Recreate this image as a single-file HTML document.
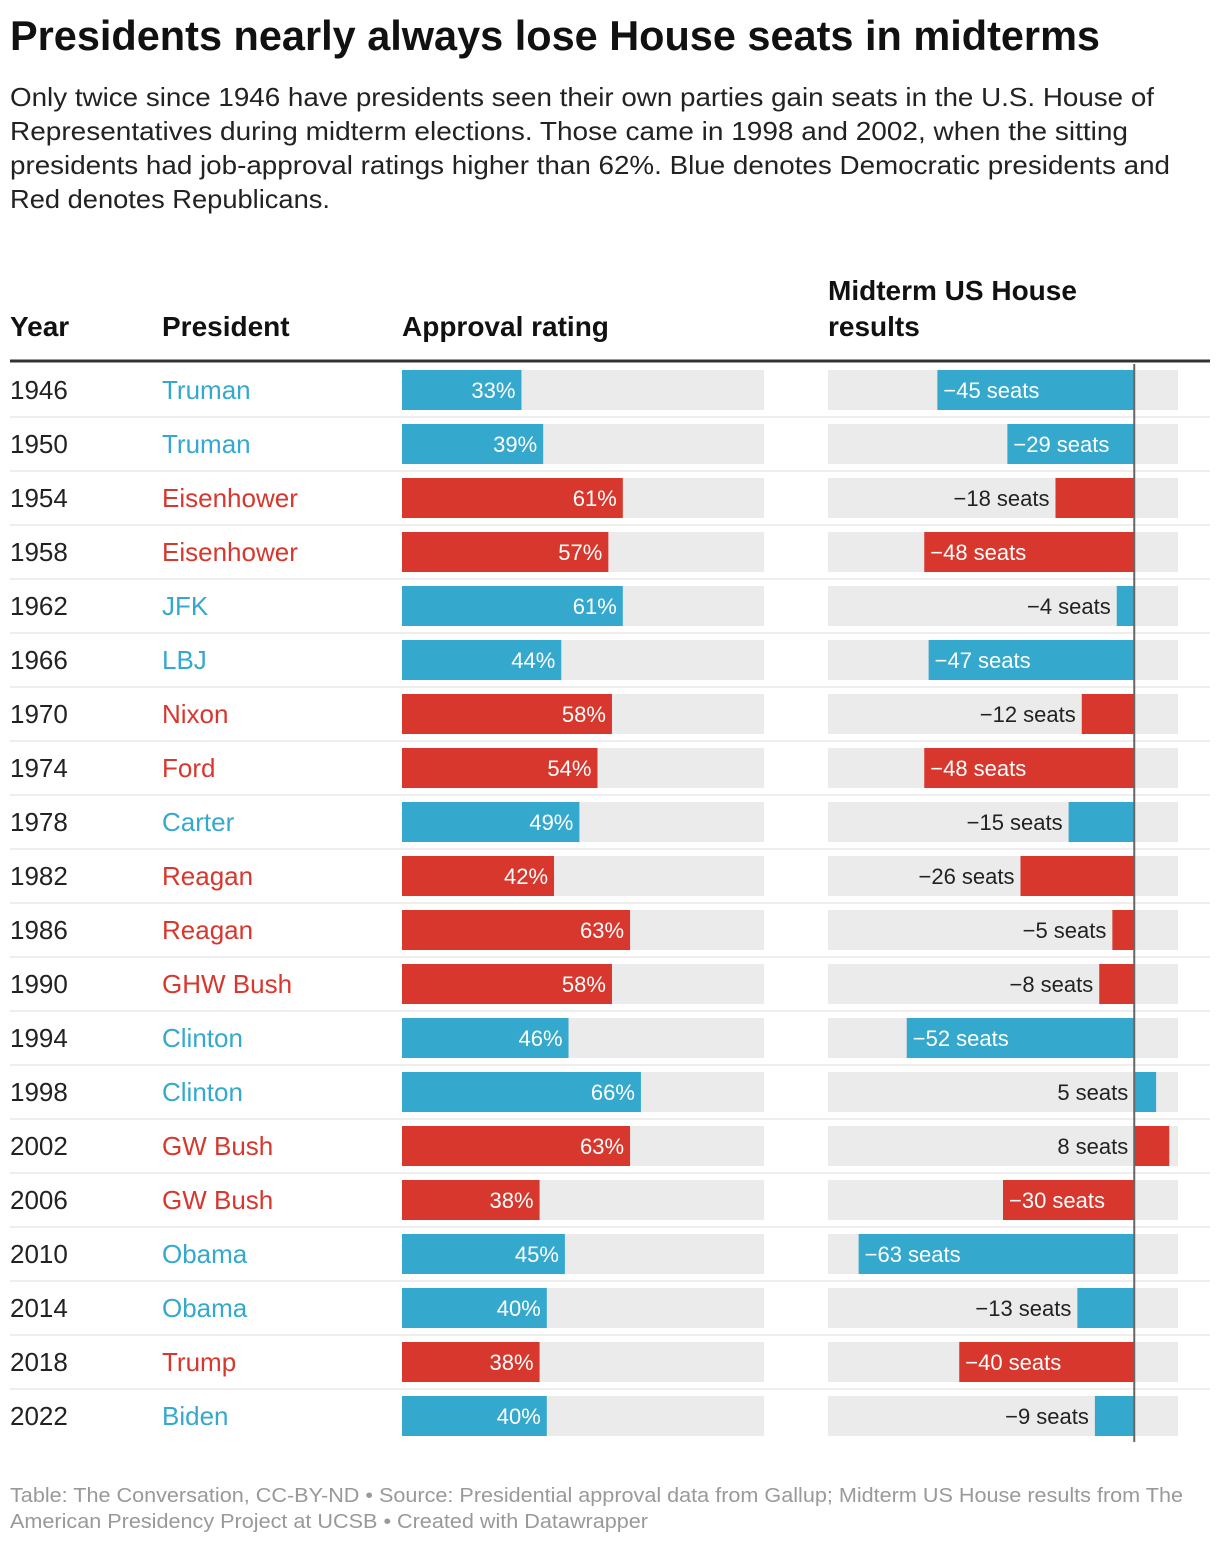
<!DOCTYPE html>
<html><head><meta charset="utf-8">
<style>
body{margin:0;background:#fff;}
svg{display:block;font-family:"Liberation Sans",sans-serif;}
</style></head>
<body>
<svg id="chart" width="1220" height="1544" viewBox="0 0 1220 1544">
<text x="10" y="50" font-size="42" font-weight="bold" fill="#111" textLength="1090" lengthAdjust="spacingAndGlyphs">Presidents nearly always lose House seats in midterms</text>
<g font-size="26" fill="#222">
<text x="10" y="106" textLength="1144" lengthAdjust="spacingAndGlyphs">Only twice since 1946 have presidents seen their own parties gain seats in the U.S. House of</text>
<text x="10" y="140" textLength="1118" lengthAdjust="spacingAndGlyphs">Representatives during midterm elections. Those came in 1998 and 2002, when the sitting</text>
<text x="10" y="174" textLength="1160" lengthAdjust="spacingAndGlyphs">presidents had job-approval ratings higher than 62%. Blue denotes Democratic presidents and</text>
<text x="10" y="208" textLength="320" lengthAdjust="spacingAndGlyphs">Red denotes Republicans.</text>
</g>
<g font-size="28" font-weight="bold" fill="#111">
<text x="10" y="336">Year</text>
<text x="162" y="336">President</text>
<text x="402" y="336">Approval rating</text>
<text x="828" y="300">Midterm US House</text>
<text x="828" y="336">results</text>
</g>
<rect x="10" y="359.5" width="1200" height="3" fill="#333"/>
<g id="rows"></g>
<g font-size="20" fill="#999">
<text x="10" y="1502" textLength="1173" lengthAdjust="spacingAndGlyphs">Table: The Conversation, CC-BY-ND • Source: Presidential approval data from Gallup; Midterm US House results from The</text>
<text x="10" y="1528" textLength="638" lengthAdjust="spacingAndGlyphs">American Presidency Project at UCSB • Created with Datawrapper</text>
</g>
</svg>
<script>
const years=[1946,1950,1954,1958,1962,1966,1970,1974,1978,1982,1986,1990,1994,1998,2002,2006,2010,2014,2018,2022];
const presidents=["Truman","Truman","Eisenhower","Eisenhower","JFK","LBJ","Nixon","Ford","Carter","Reagan","Reagan","GHW Bush","Clinton","Clinton","GW Bush","GW Bush","Obama","Obama","Trump","Biden"];
const parties=["D","D","R","R","D","D","R","R","D","R","R","R","D","D","R","R","D","D","R","D"];
const approval=[33,39,61,57,61,44,58,54,49,42,63,58,46,66,63,38,45,40,38,40];
const seats=[-45,-29,-18,-48,-4,-47,-12,-48,-15,-26,-5,-8,-52,5,8,-30,-63,-13,-40,-9];

const NS="http://www.w3.org/2000/svg";
const g=document.getElementById('rows');
const BLUE="#35a8cd",RED="#d7372d";
const ax=v=>402+v/100*362;
const sx=v=>828+(v+70)/80*350;
function mk(tag,attrs,parent){const e=document.createElementNS(NS,tag);for(const k in attrs)e.setAttribute(k,attrs[k]);parent.appendChild(e);return e;}
years.forEach((yr,i)=>{
  const top=370+i*54, cy=top+20, base=cy+9;
  const col=parties[i]==="D"?BLUE:RED;
  const row=mk('g',{},g);
  
  
  if(i<years.length-1){const s=mk('rect',{x:10,y:top+46,width:1200,height:2,fill:'#eee'},row);
    
    }
  const t1=mk('text',{x:10,y:base,'font-size':26,fill:'#222'},row);t1.textContent=yr;
  
  
  const t2=mk('text',{x:162,y:base,'font-size':26,fill:col},row);t2.textContent=presidents[i];
  
  
  const bg=mk('rect',{x:402,y:top,width:362,height:40,fill:'#ebebeb'},row);
  
  
  const ab=mk('rect',{x:402,y:top,width:ax(approval[i])-402,height:40,fill:col},row);
  
  
  const al=mk('text',{x:ax(approval[i])-6,y:cy+8,'font-size':22,fill:'#fff','text-anchor':'end'},row);al.textContent=approval[i]+'%';
  
  
  const sb=mk('rect',{x:828,y:top,width:350,height:40,fill:'#ebebeb'},row);
  
  
  const v=seats[i],x0=sx(0),x1=sx(v);
  const bar=mk('rect',{x:Math.min(x0,x1),y:top,width:Math.abs(x1-x0),height:40,fill:col},row);
  
  
  const lbl=(v<0?'\u2212':'')+Math.abs(v)+' seats';
  let lt;
  if(v<=-27){lt=mk('text',{x:x1+6,y:cy+8,'font-size':22,fill:'#fff'},row);}
  else{lt=mk('text',{x:Math.min(x0,x1)-6,y:cy+8,'font-size':22,fill:'#222','text-anchor':'end'},row);}
  lt.textContent=lbl;
  
  
});
const zl=mk('rect',{x:sx(0)-1,y:364,width:2,height:1078,fill:'#666'},g);


</script>
</body></html>
